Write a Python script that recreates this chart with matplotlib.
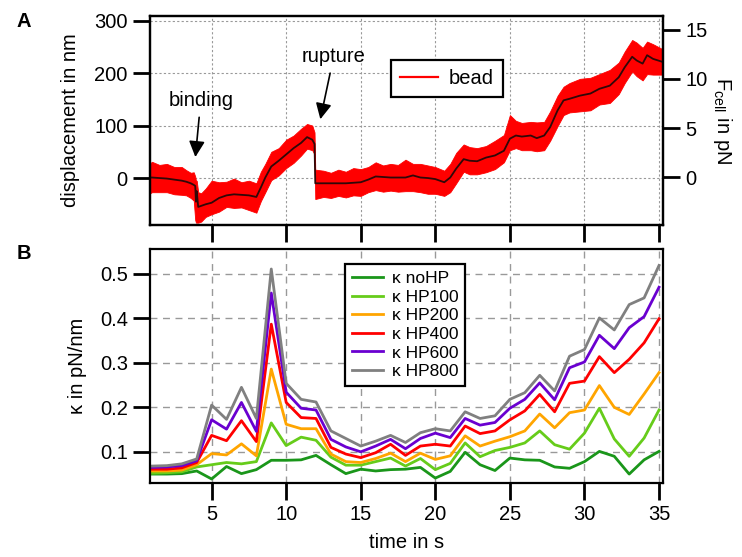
import numpy as np
import matplotlib
matplotlib.use("Agg")
import matplotlib.pyplot as plt

plt.rcParams['font.family'] = ['Liberation Sans', 'DejaVu Sans']

# panel A: bead displacement (nm), mean trace and noise band
t_bead = [0.87, 1.0, 1.5, 2.0, 2.5, 3.0, 3.3, 3.6, 3.8, 3.9, 3.95, 4.0, 4.1, 4.3, 4.6, 5.0,
          5.5, 6.0, 6.5, 7.0, 7.5, 8.0, 8.3, 8.6, 9.0, 9.5, 10.0, 10.5, 11.0, 11.4, 11.75,
          11.9, 11.95, 12.5, 13.0, 13.5, 14.0, 14.5, 15.0, 15.5, 16.0, 16.5, 17.0, 17.5,
          18.0, 18.5, 19.0, 19.5, 20.0, 20.6, 21.0, 21.4, 21.9, 22.3, 22.8, 23.4, 24.0,
          24.6, 25.0, 25.4, 25.8, 26.4, 26.8, 27.3, 27.7, 28.2, 28.6, 29.0, 29.7, 30.4,
          31.0, 31.7, 32.3, 32.7, 33.2, 33.5, 33.9, 34.2, 34.6, 35.27]
bead_mean = [1, 1, 0, -1, -3, -5, -7, -10, -13, -15, -45, -25, -55, -53, -50, -47,
             -38, -33, -31, -32, -33, -36, -18, 1, 22, 33, 45, 57, 67, 78, 73,
             65, -10, -10, -10, -10, -10, -9, -8, -3, 3, 2, 1, 1,
             1, 5, 1, 0, -2, -8, 1, 18, 36, 33, 32, 39, 43,
             52, 75, 81, 79, 81, 76, 81, 97, 129, 148, 151, 157, 161,
             170, 176, 192, 211, 231, 224, 218, 234, 227, 221]
bead_up = [27, 30, 25, 28, 24, 26, 22, 20, 24, 18, 40, 20, 28, 24, 30, 42,
           30, 26, 30, 24, 28, 26, 30, 26, 28, 24, 28, 24, 27, 25, 27,
           22, 26, 24, 20, 26, 22, 28, 25, 24, 27, 22, 26, 24,
           34, 22, 26, 24, 23, 22, 26, 30, 28, 26, 25, 22, 28,
           30, 45, 28, 26, 26, 30, 26, 30, 28, 26, 30, 32, 30,
           28, 30, 28, 30, 32, 34, 30, 26, 28, 24]
bead_dn = [30, 28, 27, 26, 28, 27, 26, 28, 30, 65, 40, 60, 30, 30, 24, 22,
           26, 22, 26, 24, 28, 30, 26, 28, 26, 28, 26, 28, 24, 22, 20,
           20, 30, 26, 28, 24, 27, 24, 26, 24, 26, 28, 25, 27,
           26, 30, 28, 30, 28, 26, 28, 28, 24, 26, 25, 28, 26,
           22, 22, 24, 26, 28, 25, 28, 26, 30, 28, 26, 30, 32,
           30, 33, 32, 30, 28, 30, 32, 36, 30, 24]

# panel B: stiffness kappa (pN/nm)
t_kappa = list(range(1, 36))
k_noHP = [0.050, 0.050, 0.051, 0.057, 0.039, 0.067, 0.051, 0.060, 0.081, 0.081, 0.082, 0.092,
          0.071, 0.051, 0.061, 0.057, 0.060, 0.061, 0.065, 0.041, 0.056, 0.099, 0.071, 0.058,
          0.086, 0.082, 0.081, 0.066, 0.063, 0.078, 0.101, 0.090, 0.050, 0.082, 0.101]
k_HP100 = [0.052, 0.053, 0.055, 0.066, 0.071, 0.076, 0.073, 0.078, 0.165, 0.114, 0.133, 0.126,
           0.088, 0.070, 0.070, 0.078, 0.086, 0.068, 0.085, 0.060, 0.074, 0.120, 0.089, 0.103,
           0.110, 0.120, 0.147, 0.116, 0.106, 0.142, 0.198, 0.129, 0.090, 0.131, 0.194]
k_HP200 = [0.057, 0.057, 0.059, 0.071, 0.096, 0.093, 0.118, 0.091, 0.286, 0.162, 0.152, 0.152,
           0.095, 0.078, 0.076, 0.085, 0.097, 0.078, 0.097, 0.083, 0.091, 0.136, 0.113, 0.124,
           0.134, 0.147, 0.185, 0.154, 0.188, 0.194, 0.249, 0.200, 0.184, 0.230, 0.278]
k_HP400 = [0.061, 0.061, 0.064, 0.076, 0.137, 0.125, 0.170, 0.123, 0.387, 0.211, 0.177, 0.175,
           0.110, 0.095, 0.087, 0.098, 0.117, 0.092, 0.113, 0.117, 0.113, 0.158, 0.141, 0.147,
           0.172, 0.192, 0.229, 0.190, 0.254, 0.259, 0.314, 0.278, 0.308, 0.345, 0.399]
k_HP600 = [0.065, 0.066, 0.069, 0.080, 0.172, 0.151, 0.211, 0.146, 0.457, 0.234, 0.198, 0.194,
           0.128, 0.111, 0.100, 0.113, 0.128, 0.107, 0.130, 0.142, 0.132, 0.175, 0.160, 0.166,
           0.198, 0.218, 0.255, 0.217, 0.289, 0.302, 0.362, 0.332, 0.379, 0.404, 0.470]
k_HP800 = [0.068, 0.069, 0.073, 0.084, 0.205, 0.173, 0.245, 0.175, 0.511, 0.254, 0.218, 0.212,
           0.147, 0.130, 0.113, 0.124, 0.137, 0.121, 0.143, 0.152, 0.147, 0.190, 0.175, 0.181,
           0.218, 0.233, 0.272, 0.237, 0.315, 0.330, 0.401, 0.374, 0.431, 0.446, 0.519]
kappa_labels = ['κ noHP', 'κ HP100', 'κ HP200', 'κ HP400', 'κ HP600', 'κ HP800']
kappa_colors = ['#1a961a', '#66cc1a', '#ffa500', '#ff0000', '#6a00d0', '#808080']

x_ticks = [5, 10, 15, 20, 25, 30, 35]

fig = plt.figure(figsize=(7.42, 5.57), dpi=100)
axA = fig.add_axes([0.2022, 0.596, 0.6914, 0.3752])
axB = fig.add_axes([0.2022, 0.1329, 0.6914, 0.4201])

fs = 14.5

def style(ax):
    for s in ax.spines.values():
        s.set_linewidth(1.6)
    ax.tick_params(direction='out', length=12, width=2.0, labelsize=fs, pad=4)

# ---- panel A
mean = np.array(bead_mean, float)
axA.fill_between(t_bead, mean - np.array(bead_dn), mean + np.array(bead_up),
                 color='#ff0000', lw=0.6, edgecolor='#ff0000', zorder=2)
axA.plot(t_bead, mean, color='#300808', lw=1.3, zorder=3)
axA.plot([], [], color='#ff0000', lw=1.6, label='bead')
axA.set_xlim(0.87, 35.27)
axA.set_ylim(-89.5, 308.6)
axA.set_yticks([0, 100, 200, 300])
axA.set_xticks(x_ticks)
axA.tick_params(axis='x', labelbottom=False)
axA.grid(True, color='#999999', lw=0.8, linestyle=(0, (2, 2)))
axA.set_axisbelow(True)
style(axA)
axA.set_ylabel('displacement in nm', fontsize=fs, labelpad=10)
legA = axA.legend(loc='upper left', bbox_to_anchor=(0.47, 0.79), fontsize=fs,
                  fancybox=False, edgecolor='black', framealpha=1, borderaxespad=0,
                  handlelength=1.9, borderpad=0.45, handletextpad=0.5)
legA.get_frame().set_linewidth(1.6)

arrow = dict(arrowstyle='-|>', color='black', lw=1.2, mutation_scale=24, shrinkA=3, shrinkB=0)
axA.annotate('binding', xy=(3.91, 40), xytext=(4.27, 147), fontsize=fs,
             ha='center', va='center', arrowprops=arrow)
axA.annotate('rupture', xy=(12.29, 112), xytext=(13.18, 231), fontsize=fs,
             ha='center', va='center', arrowprops=arrow)

axR = axA.twinx()
axR.set_ylim(-4.85, 16.4)
axR.set_yticks([0, 5, 10, 15])
style(axR)
axR.set_ylabel('F$_\\mathregular{cell}$ in pN', fontsize=fs, rotation=270, labelpad=19)

# ---- panel B
series = [k_noHP, k_HP100, k_HP200, k_HP400, k_HP600, k_HP800]
for vals, lab, col in zip(series, kappa_labels, kappa_colors):
    axB.plot(t_kappa, vals, color=col, lw=2.0, label=lab)
axB.set_xlim(0.87, 35.27)
axB.set_ylim(0.03, 0.556)
axB.set_xticks(x_ticks)
axB.set_yticks([0.1, 0.2, 0.3, 0.4, 0.5])
axB.set_yticklabels(['0.1', '0.2', '0.3', '0.4', '0.5'])
axB.grid(True, color='#999999', lw=1.0, linestyle=(0, (5, 4)))
axB.set_axisbelow(True)
style(axB)
axB.set_ylabel('κ in pN/nm', fontsize=fs, labelpad=9)
axB.set_xlabel('time in s', fontsize=fs, labelpad=6)
legB = axB.legend(loc='upper left', bbox_to_anchor=(0.38, 0.936), fontsize=12.5,
                  fancybox=False, edgecolor='black', framealpha=1, borderaxespad=0,
                  handlelength=1.8, labelspacing=0.2, borderpad=0.4, handletextpad=0.5)
legB.get_frame().set_linewidth(1.6)

fig.text(0.022, 0.962, 'A', fontsize=fs, fontweight='bold', va='center')
fig.text(0.022, 0.545, 'B', fontsize=fs, fontweight='bold', va='center')

fig.savefig('out.png', dpi=100)
